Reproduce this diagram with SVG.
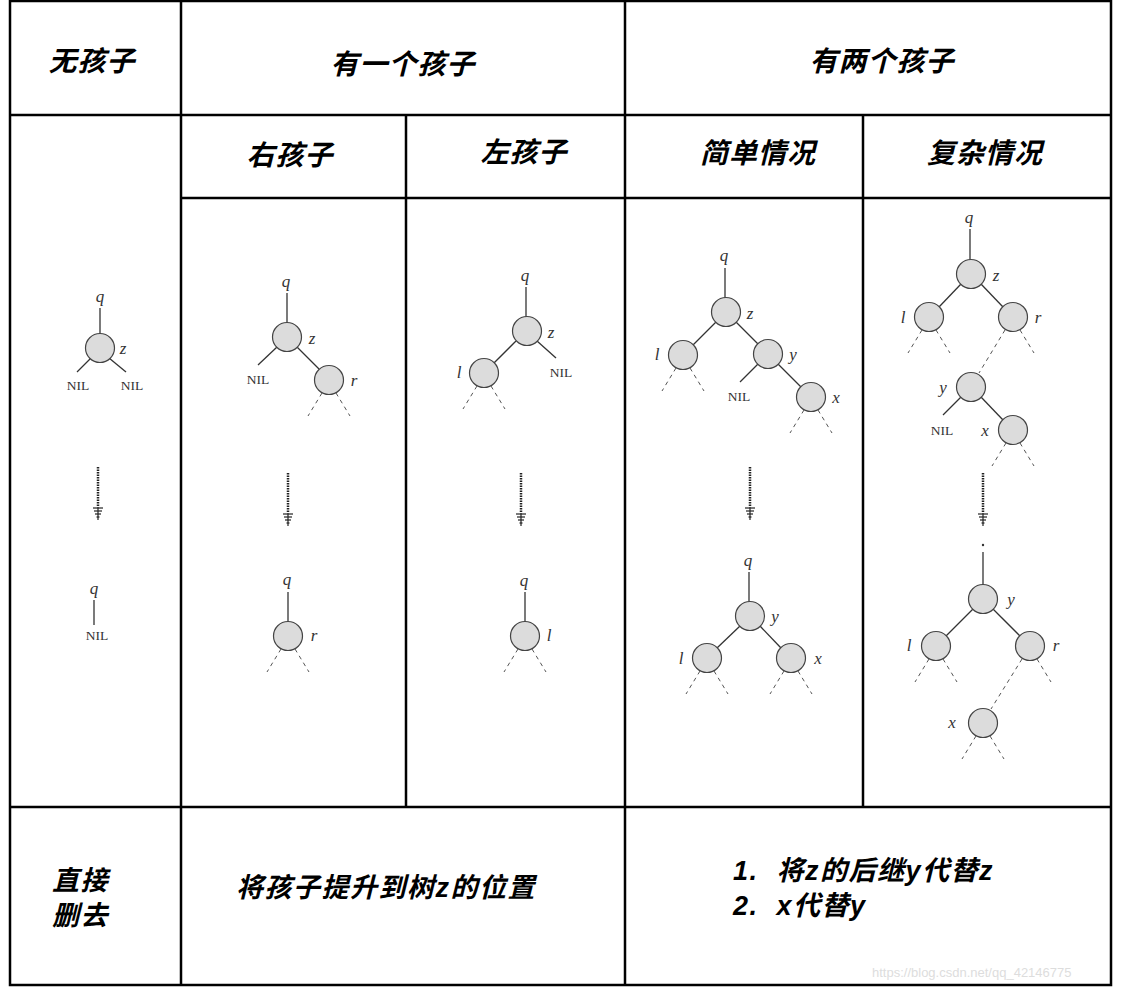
<svg xmlns="http://www.w3.org/2000/svg" xmlns:xlink="http://www.w3.org/1999/xlink" width="1124" height="991" viewBox="0 0 1124 991">
<style>
.g{stroke:#000;stroke-width:2.5;fill:none}
.h{font-family:"Liberation Sans","Noto Sans CJK SC",sans-serif;font-style:italic;font-weight:bold;font-size:28px;letter-spacing:1px;text-anchor:middle}
.b{font-family:"Liberation Sans","Noto Sans CJK SC",sans-serif;font-style:italic;font-weight:bold;font-size:27px;letter-spacing:1.5px}
.v{font-family:"Liberation Serif",serif;font-style:italic;font-size:17px;fill:#333;text-anchor:middle}
.n{font-family:"Liberation Serif",serif;font-size:13.5px;fill:#333;text-anchor:middle}
.e{stroke:#333;stroke-width:1.3;fill:none}
.d{stroke:#555;stroke-width:1;stroke-dasharray:4,4;fill:none}
</style>
<defs>
<g id="nd"><circle r="14.5" fill="#dcdcdc" stroke="#444" stroke-width="1.2"/></g>
<g id="st"><line class="d" x1="-7" y1="13" x2="-21" y2="36"/><line class="d" x1="7" y1="13" x2="21" y2="36"/></g>
<g id="ar" stroke="#222" stroke-width="1.2"><line x1="0" y1="0" x2="0" y2="40" stroke-width="2.5" stroke-dasharray="1.5,1"/><line x1="-5" y1="41" x2="5" y2="41"/><line x1="-4" y1="44" x2="4" y2="44"/><line x1="-3" y1="47" x2="3" y2="47"/><line x1="-1.5" y1="50" x2="1.5" y2="50"/><line x1="0" y1="40" x2="0" y2="53"/></g>
</defs>
<rect width="1124" height="991" fill="#fff"/>
<g id="grid" class="g">
<rect x="10" y="1" width="1101" height="984"/>
<line x1="181" y1="1" x2="181" y2="985"/><line x1="625" y1="1" x2="625" y2="985"/>
<line x1="406" y1="115" x2="406" y2="807"/><line x1="863" y1="115" x2="863" y2="807"/>
<line x1="10" y1="115" x2="1111" y2="115"/><line x1="181" y1="198" x2="1111" y2="198"/>
<line x1="10" y1="807" x2="1111" y2="807"/>
</g>
<g id="headers">
<text class="h" x="92" y="71">无孩子</text><text class="h" x="403" y="74">有一个孩子</text><text class="h" x="882" y="71">有两个孩子</text>
<text class="h" x="290" y="165">右孩子</text><text class="h" x="524" y="162">左孩子</text><text class="h" x="758" y="163">简单情况</text><text class="h" x="985" y="163">复杂情况</text>
<text class="b" x="52" y="890">直接</text><text class="b" x="52" y="925">删去</text>
<text class="b" x="236" y="897">将孩子提升到树z的位置</text>
<text class="b" x="733" y="880" xml:space="preserve">1.  将z的后继y代替z</text><text class="b" x="733" y="915" xml:space="preserve">2.  x代替y</text>
<text x="872" y="977" font-family="Liberation Sans,sans-serif" font-size="13" fill="#ddd">https://blog.csdn.net/qq_42146775</text>
</g>
<g id="connectors">
<line class="e" x1="100" y1="308" x2="100" y2="334"/><line class="e" x1="91" y1="358" x2="77" y2="372"/><line class="e" x1="109" y1="358" x2="126" y2="372"/>
<line class="e" x1="94" y1="600" x2="94" y2="625"/>
<line class="e" x1="287" y1="293" x2="287" y2="323"/><line class="e" x1="277" y1="347" x2="258" y2="365"/><line class="e" x1="297" y1="347" x2="319" y2="369"/>
<line class="e" x1="288" y1="592" x2="288" y2="622"/>
<line class="e" x1="526" y1="287" x2="526" y2="317"/><line class="e" x1="516" y1="341" x2="494" y2="363"/><line class="e" x1="537" y1="341" x2="556" y2="358"/>
<line class="e" x1="525" y1="592" x2="525" y2="622"/>
<line class="e" x1="725" y1="268" x2="725" y2="298"/><line class="e" x1="716" y1="322" x2="693" y2="345"/><line class="e" x1="736" y1="322" x2="758" y2="344"/>
<line class="e" x1="758" y1="364" x2="740" y2="382"/><line class="e" x1="778" y1="364" x2="801" y2="387"/>
<line class="e" x1="749" y1="572" x2="749" y2="602"/><line class="e" x1="740" y1="626" x2="717" y2="648"/><line class="e" x1="760" y1="626" x2="781" y2="648"/>
<line class="e" x1="970" y1="229" x2="970" y2="260"/><line class="e" x1="961" y1="284" x2="939" y2="307"/><line class="e" x1="981" y1="284" x2="1003" y2="307"/>
<line class="d" x1="1005" y1="330" x2="979" y2="373"/><line class="d" x1="1020" y1="330" x2="1034" y2="353"/>
<line class="e" x1="961" y1="397" x2="943" y2="415"/><line class="e" x1="981" y1="397" x2="1003" y2="420"/>
<line class="e" x1="983" y1="552" x2="983" y2="585"/><line class="e" x1="973" y1="609" x2="946" y2="636"/><line class="e" x1="993" y1="609" x2="1020" y2="636"/>
<line class="d" x1="1022" y1="659" x2="991" y2="709"/><line class="d" x1="1037" y1="659" x2="1051" y2="682"/>
</g>
<g id="arrows">
<use xlink:href="#ar" x="98" y="467"/><use xlink:href="#ar" x="288" y="473"/><use xlink:href="#ar" x="521" y="473"/><use xlink:href="#ar" x="750" y="467"/><use xlink:href="#ar" x="983" y="473"/>
</g>
<g id="nodes">
<use xlink:href="#nd" x="100" y="348"/>
<use xlink:href="#nd" x="287" y="337"/><use xlink:href="#nd" x="329" y="380"/><use xlink:href="#st" x="329" y="380"/>
<use xlink:href="#nd" x="288" y="636"/><use xlink:href="#st" x="288" y="636"/>
<use xlink:href="#nd" x="527" y="331"/><use xlink:href="#nd" x="484" y="373"/><use xlink:href="#st" x="484" y="373"/>
<use xlink:href="#nd" x="525" y="636"/><use xlink:href="#st" x="525" y="636"/>
<use xlink:href="#nd" x="726" y="312"/><use xlink:href="#nd" x="683" y="355"/><use xlink:href="#st" x="683" y="355"/><use xlink:href="#nd" x="768" y="354"/><use xlink:href="#nd" x="811" y="397"/><use xlink:href="#st" x="811" y="397"/>
<use xlink:href="#nd" x="750" y="616"/><use xlink:href="#nd" x="707" y="658"/><use xlink:href="#st" x="707" y="658"/><use xlink:href="#nd" x="791" y="658"/><use xlink:href="#st" x="791" y="658"/>
<use xlink:href="#nd" x="971" y="274"/><use xlink:href="#nd" x="929" y="317"/><use xlink:href="#st" x="929" y="317"/><use xlink:href="#nd" x="1013" y="317"/>
<use xlink:href="#nd" x="971" y="387"/><use xlink:href="#nd" x="1013" y="430"/><use xlink:href="#st" x="1013" y="430"/>
<circle cx="983" cy="545" r="1.2" fill="#333"/>
<use xlink:href="#nd" x="983" y="599"/><use xlink:href="#nd" x="936" y="646"/><use xlink:href="#st" x="936" y="646"/><use xlink:href="#nd" x="1030" y="646"/>
<use xlink:href="#nd" x="983" y="723"/><use xlink:href="#st" x="983" y="723"/>
</g>
<g id="labels">
<text class="v" x="100" y="302">q</text><text class="v" x="123" y="354">z</text><text class="n" x="78" y="390">NIL</text><text class="n" x="132" y="390">NIL</text>
<text class="v" x="94" y="594">q</text><text class="n" x="97" y="640">NIL</text>
<text class="v" x="286" y="287">q</text><text class="v" x="312" y="344">z</text><text class="n" x="258" y="384">NIL</text><text class="v" x="354" y="386">r</text>
<text class="v" x="287" y="585">q</text><text class="v" x="314" y="641">r</text>
<text class="v" x="525" y="281">q</text><text class="v" x="551" y="338">z</text><text class="v" x="459" y="378">l</text><text class="n" x="561" y="377">NIL</text>
<text class="v" x="524" y="586">q</text><text class="v" x="549" y="641">l</text>
<text class="v" x="724" y="261">q</text><text class="v" x="750" y="319">z</text><text class="v" x="657" y="360">l</text><text class="v" x="793" y="360">y</text><text class="n" x="739" y="401">NIL</text><text class="v" x="836" y="403">x</text>
<text class="v" x="748" y="566">q</text><text class="v" x="775" y="622">y</text><text class="v" x="681" y="664">l</text><text class="v" x="818" y="664">x</text>
<text class="v" x="969" y="223">q</text><text class="v" x="996" y="281">z</text><text class="v" x="903" y="323">l</text><text class="v" x="1038" y="323">r</text>
<text class="v" x="943" y="393">y</text><text class="n" x="942" y="435">NIL</text><text class="v" x="985" y="436">x</text>
<text class="v" x="1011" y="605">y</text><text class="v" x="909" y="651">l</text><text class="v" x="1056" y="651">r</text><text class="v" x="952" y="728">x</text>
</g>
</svg>
